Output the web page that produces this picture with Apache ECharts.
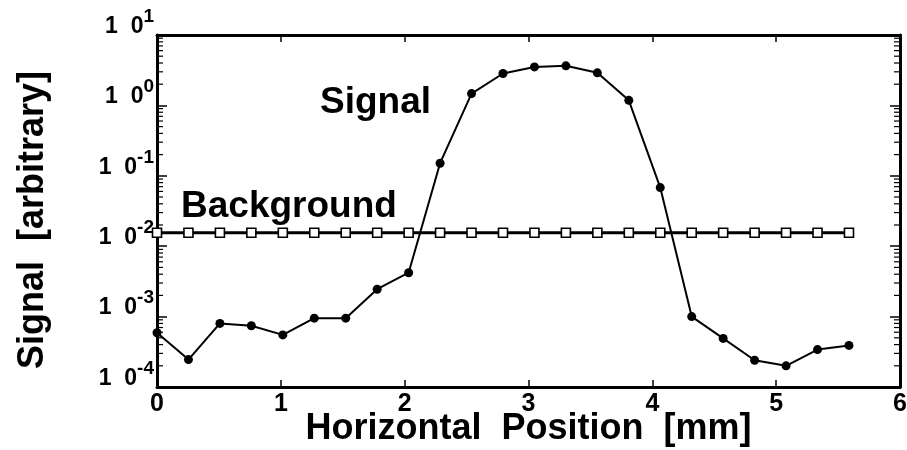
<!DOCTYPE html>
<html>
<head>
<meta charset="utf-8">
<script src="https://cdn.jsdelivr.net/npm/echarts@6/dist/echarts.min.js"></script>
<style>
  html, body { margin: 0; padding: 0; background: #fff; }
  #chart { width: 907px; height: 450px; }
</style>
</head>
<body>
<div id="chart"></div>
<script>
// Scan positions (mm), stepped every 0.254 mm
const positions = [0, 0.254, 0.508, 0.762, 1.016, 1.27, 1.524, 1.778, 2.032, 2.286, 2.54, 2.794,
  3.048, 3.302, 3.556, 3.81, 4.064, 4.318, 4.572, 4.826, 5.08, 5.334, 5.588];

// Signal intensity at each position
const signalValues = [5.9e-4, 2.45e-4, 8.0e-4, 7.4e-4, 5.5e-4, 9.5e-4, 9.5e-4, 2.45e-3, 4.2e-3,
  0.151, 1.47, 2.84, 3.52, 3.65, 2.9, 1.18, 0.068, 1.0e-3, 4.9e-4, 2.4e-4, 2.0e-4, 3.4e-4, 3.9e-4];

// Background level at each position
const backgroundValues = [0.0155, 0.0155, 0.0155, 0.0155, 0.0155, 0.0155, 0.0155, 0.0155, 0.0155,
  0.0155, 0.0155, 0.0155, 0.0155, 0.0155, 0.0155, 0.0155, 0.0155, 0.0155, 0.0155, 0.0155,
  0.0155, 0.0155, 0.0155];

// Axis tick labels
const xTickLabels = ['0', '1', '2', '3', '4', '5', '6'];
const yTickExponents = ['1', '0', '-1', '-2', '-3', '-4'];

const FONT = '"Liberation Sans", Arial, Helvetica, sans-serif';

// minor log ticks (2..9 x 10^k) for the decades shown
const minorTicks = [];
for (let k = -4; k < 1; k++) {
  for (let m = 2; m <= 9; m++) minorTicks.push([0, m * Math.pow(10, k)]);
}

const chart = echarts.init(document.getElementById('chart'), null, { renderer: 'canvas' });

const frameLine = { show: true, onZero: false, lineStyle: { color: '#000', width: 3 } };

chart.setOption({
  animation: false,
  backgroundColor: '#fff',
  grid: { left: 157, right: 7, top: 35, bottom: 63, containLabel: false, outerBoundsMode: 'none' },
  xAxis: [
    {
      type: 'value', min: 0, max: 6, interval: 1, position: 'bottom',
      name: 'Horizontal  Position  [mm]', nameLocation: 'middle', nameGap: 24, nameMoveOverlap: false,
      nameTextStyle: { fontFamily: FONT, fontWeight: 'bold', fontSize: 36, color: '#000' },
      axisLine: frameLine,
      axisTick: { show: true, inside: true, length: 7, lineStyle: { color: '#000', width: 1.5 } },
      axisLabel: {
        margin: 5, fontFamily: FONT, fontWeight: 'bold', fontSize: 25, color: '#000',
        formatter: (v) => xTickLabels[Math.round(v)]
      },
      splitLine: { show: false }
    },
    {
      type: 'value', min: 0, max: 6, interval: 1, position: 'top',
      axisLine: frameLine,
      axisTick: { show: true, inside: true, length: 7, lineStyle: { color: '#000', width: 1.5 } },
      axisLabel: { show: false },
      splitLine: { show: false }
    }
  ],
  yAxis: [
    {
      type: 'log', logBase: 10, min: 1e-4, max: 10, position: 'left',
      name: 'Signal  [arbitrary]', nameLocation: 'middle', nameGap: 106, nameRotate: 90, nameMoveOverlap: false,
      nameTextStyle: { fontFamily: FONT, fontWeight: 'bold', fontSize: 36, color: '#000', padding: [0, 18, 0, 0] },
      axisLine: frameLine,
      axisTick: { show: true, inside: true, length: 10, lineStyle: { color: '#000', width: 1.5 } },
      axisLabel: {
        margin: 3,
        padding: [0, 0, 17, 0],
        formatter: (v) => '{b|1  0}{s|' + yTickExponents[1 - Math.round(Math.log10(v))] + '}',
        rich: {
          b: { fontFamily: FONT, fontWeight: 'bold', fontSize: 23, color: '#000', lineHeight: 23, verticalAlign: 'bottom' },
          s: { fontFamily: FONT, fontWeight: 'bold', fontSize: 19, color: '#000', lineHeight: 19, verticalAlign: 'bottom', padding: [0, 0, 12, 0] }
        }
      },
      splitLine: { show: false }
    },
    {
      type: 'log', logBase: 10, min: 1e-4, max: 10, position: 'right',
      axisLine: frameLine,
      axisTick: { show: true, inside: true, length: 10, lineStyle: { color: '#000', width: 1.5 } },
      axisLabel: { show: false },
      splitLine: { show: false }
    }
  ],
  series: [
    {
      name: 'minorTicks', type: 'custom', xAxisIndex: 0, yAxisIndex: 0, silent: true, z: 1,
      data: minorTicks,
      renderItem: function (params, api) {
        const cs = params.coordSys;
        const y = api.coord([0, api.value(1)])[1];
        const len = 6;
        return {
          type: 'group',
          children: [
            { type: 'line', shape: { x1: cs.x, y1: y, x2: cs.x + len, y2: y }, style: { stroke: '#000', lineWidth: 1.2 } },
            { type: 'line', shape: { x1: cs.x + cs.width, y1: y, x2: cs.x + cs.width - len, y2: y }, style: { stroke: '#000', lineWidth: 1.2 } }
          ]
        };
      }
    },
    {
      name: 'Background', type: 'line', xAxisIndex: 0, yAxisIndex: 0, z: 3,
      data: positions.map((x, i) => [x, backgroundValues[i]]),
      symbol: 'rect', symbolSize: 9,
      lineStyle: { color: '#000', width: 3 },
      itemStyle: { color: '#fff', borderColor: '#000', borderWidth: 1.6 }
    },
    {
      name: 'Signal', type: 'line', xAxisIndex: 0, yAxisIndex: 0, z: 4,
      data: positions.map((x, i) => [x, signalValues[i]]),
      symbol: 'circle', symbolSize: 9,
      lineStyle: { color: '#000', width: 2 },
      itemStyle: { color: '#000', borderColor: '#000', borderWidth: 0 }
    }
  ],
  graphic: [
    { type: 'text', x: 320, y: 103, style: { text: 'Signal', fontFamily: FONT, fontWeight: 'bold', fontSize: 37, fill: '#000', verticalAlign: 'middle' } },
    { type: 'text', x: 181, y: 207, style: { text: 'Background', fontFamily: FONT, fontWeight: 'bold', fontSize: 37, fill: '#000', verticalAlign: 'middle' } }
  ]
});
</script>
</body>
</html>
